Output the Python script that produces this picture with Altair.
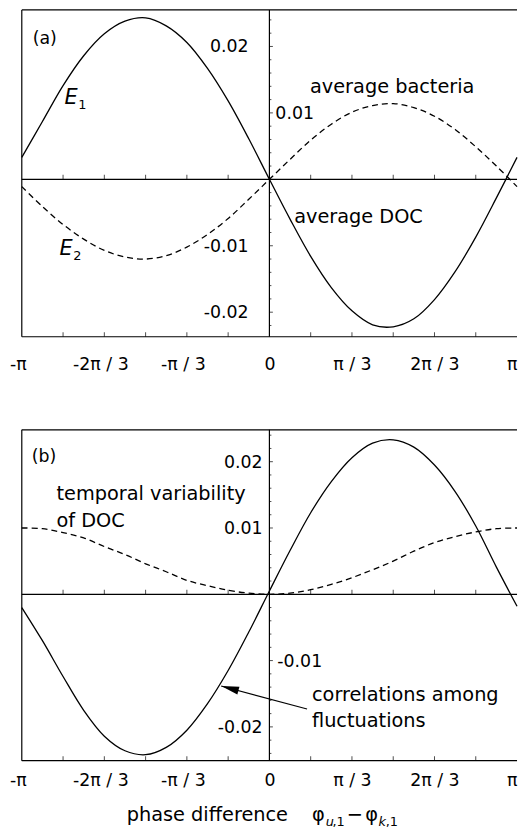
import math
import altair as alt
import pandas as pd

PI = math.pi
FONT = "DejaVu Sans"

# ---------------- data ----------------
# common x positions: multiples of pi/12 from -pi to pi
grid_k = list(range(-12, 13))
grid_x = [k * PI / 12 for k in grid_k]

# panel (a): E1 (solid) and E2 (dashed)
a_e1_y = [0.0033, 0.0087, 0.0141, 0.0186, 0.0219, 0.0238, 0.0243, 0.0231, 0.0206, 0.0167, 0.0118, 0.0061, 0.0,
          -0.0060, -0.0116, -0.0163, -0.0198, -0.0219, -0.0222, -0.0210, -0.0181, -0.0139, -0.0087, -0.0028, 0.0033]
a_e2_y = [-0.0011, -0.0041, -0.0068, -0.0090, -0.0107, -0.0117, -0.0120, -0.0115, -0.0102, -0.0083, -0.0059, -0.0030, 0.0,
          0.0030, 0.0059, 0.0083, 0.0101, 0.0111, 0.0114, 0.0108, 0.0095, 0.0075, 0.0049, 0.0020, -0.0011]

# panel (b): correlations among fluctuations (solid), temporal variability of DOC (dashed)
b_sol_y = [-0.0020, -0.0070, -0.0124, -0.0175, -0.0214, -0.0236, -0.0242, -0.0231, -0.0205, -0.0165, -0.0115, -0.0057, 0.0005,
           0.0066, 0.0123, 0.0170, 0.0206, 0.0228, 0.0233, 0.0222, 0.0195, 0.0155, 0.0103, 0.0041, -0.0018]
b_dash_y = [0.0100, 0.0099, 0.0093, 0.0085, 0.0072, 0.0060, 0.0046, 0.0034, 0.0021, 0.0013, 0.0006, 0.00017, 0.0,
            0.00017, 0.0007, 0.0015, 0.0025, 0.0037, 0.0050, 0.0065, 0.0078, 0.0087, 0.0094, 0.0099, 0.0100]

# axes
x_label_mult = [-3, -2, -1, 0, 1, 2, 3]          # multiples of pi/3
x_labels = ["-π", "-2π / 3", "-π / 3", "0", "π / 3", "2π / 3", "π"]
x_tick_mult = [-5, -4, -3, -2, -1, 1, 2, 3, 4, 5]  # multiples of pi/6
a_ydom = [-0.0237, 0.0255]
b_ydom = [-0.0251, 0.0248]
y_major = [-0.02, -0.01, 0.01, 0.02]
y_minor_k = list(range(-12, 13))                  # multiples of 0.002
y_label_vals = [0.02, 0.01, -0.01, -0.02]
y_label_txt = ["0.02", "0.01", "-0.01", "-0.02"]
a_y_label_side = ["L", "R", "L", "L"]
b_y_label_side = ["L", "L", "R", "L"]

# annotations (x in radians, y in data units)
a_ann_txt = ["(a)", "average bacteria", "average DOC"]
a_ann_x = [-3.003, 0.515, 0.314]
a_ann_y = [0.0204, 0.0130, -0.00657]
a_ann_s = [17.5, 19.5, 19.5]
a_E_txt = ["E", "E"]
a_E_x = [-2.601, -2.664]
a_E_y = [0.01134, -0.01145]
a_sub_txt = ["1", "2"]
a_sub_x = [-2.425, -2.488]
a_sub_y = [0.0106, -0.0121]

b_ann_txt = ["(b)", "temporal variability", "of DOC", "correlations among", "fluctuations"]
b_ann_x = [-3.016, -2.702, -2.702, 0.540, 0.540]
b_ann_y = [0.0200, 0.01418, 0.01015, -0.01607, -0.02005]
b_ann_s = [17.5, 19.5, 19.5, 19.5, 19.5]
arrow_from = (0.4775, -0.01731)
arrow_tip = (-0.612, -0.01384)

# x-axis title pieces (panel b, below plot)
t_txt = ["phase difference", "φ", ",1", "−", "φ", ",1"]
t_x = [-1.810, 0.540, 0.800, 0.980, 1.215, 1.475]
t_y = [-0.0342, -0.0342, -0.0349, -0.0342, -0.0342, -0.0349]
t_s = [19.5, 19.5, 13, 19.5, 19.5, 13]
t_it_txt = ["u", "k"]
t_it_x = [0.716, 1.385]
t_it_y = [-0.0349, -0.0349]


def label_expr():
    parts = []
    for m, lab in zip(x_label_mult, x_labels):
        parts.append(f"round(datum.value*3/PI) == {m} ? '{lab}'")
    return " : ".join(parts) + " : ''"


def make_panel(ydom, height, label_pad, lines, y_side, dx_left, dx_right, ann, italics, subs, extra=None):
    xs = alt.Scale(domain=[-PI, PI], nice=False, zero=False)
    ys = alt.Scale(domain=ydom, nice=False, zero=False)
    xaxis = alt.Axis(values=[m * PI / 3 for m in x_label_mult], labelExpr=label_expr(),
                     ticks=False, domain=False, grid=False, title=None,
                     labelFont=FONT, labelFontSize=17.5, labelColor="black", labelPadding=label_pad,
                     labelAlign={"condition": {"test": "datum.value > 3", "value": "right"}, "value": "center"},
                     labelOffset={"condition": {"test": "datum.value < -0.1", "value": -4}, "value": 0})

    def X():
        return alt.X("x:Q", scale=xs, axis=xaxis)

    def Y():
        return alt.Y("y:Q", scale=ys, axis=None)

    lo, hi = ydom
    frame = pd.DataFrame({
        "x": [-PI, -PI, -PI, 0.0, -PI],
        "x2": [PI, PI, -PI, 0.0, PI],
        "y": [hi, lo, lo, lo, 0.0],
        "y2": [hi, lo, hi, hi, 0.0],
    })
    layers = [alt.Chart(frame).mark_rule(color="black", strokeWidth=1.2).encode(
        x=X(), x2="x2:Q", y=Y(), y2="y2:Q")]

    xt = pd.DataFrame({"x": [k * PI / 6 for k in x_tick_mult] * 2,
                       "y": [0.0] * len(x_tick_mult) + [lo] * len(x_tick_mult)})
    layers.append(alt.Chart(xt).mark_tick(orient="vertical", size=4.5, thickness=1, yOffset=-2.25, color="black").encode(
        x=X(), y=Y()))
    ymn = [k * 0.002 for k in y_minor_k if lo < k * 0.002 < hi and k % 5 != 0]
    layers.append(alt.Chart(pd.DataFrame({"x": [0.0] * len(ymn), "y": ymn})).mark_tick(
        orient="horizontal", size=2, thickness=1, xOffset=1, color="black").encode(x=X(), y=Y()))
    layers.append(alt.Chart(pd.DataFrame({"x": [0.0] * len(y_major), "y": y_major})).mark_tick(
        orient="horizontal", size=3.5, thickness=1, xOffset=1.75, color="black").encode(x=X(), y=Y()))

    for (ly, dashed) in lines:
        kw = {"strokeDash": [6, 4]} if dashed else {}
        layers.append(alt.Chart(pd.DataFrame({"x": grid_x, "y": ly})).mark_line(
            color="black", strokeWidth=1.3, interpolate="catmull-rom", **kw).encode(
            x=X(), y=Y(), order="x:Q"))

    yl = pd.DataFrame({"x": [0.0] * 4, "y": y_label_vals, "t": y_label_txt, "side": y_side})
    for side, align, dx in [("L", "right", dx_left), ("R", "left", dx_right)]:
        layers.append(alt.Chart(yl[yl.side == side]).mark_text(
            align=align, baseline="middle", dx=dx, dy=1, font=FONT, fontSize=17.5, color="black").encode(
            x=X(), y=Y(), text="t:N"))

    def txt(df, italic=False):
        return alt.Chart(df).mark_text(align="left", baseline="alphabetic", font=FONT,
                                       fontStyle="italic" if italic else "normal", color="black").encode(
            x=X(), y=Y(), text="t:N", size=alt.Size("s:Q", scale=None, legend=None))

    for df, it in ann + italics + subs:
        layers.append(txt(df, it))

    if extra is not None:
        layers += extra(X, Y)
    return alt.layer(*layers).properties(width=500, height=height)


def df_t(t, x, y, s):
    if not isinstance(s, list):
        s = [s] * len(t)
    return pd.DataFrame({"t": t, "x": x, "y": y, "s": s})


panel_a = make_panel(
    a_ydom, 330, 19, [(a_e1_y, False), (a_e2_y, True)], a_y_label_side, -21, 6,
    [(df_t(a_ann_txt, a_ann_x, a_ann_y, a_ann_s), False)],
    [(df_t(a_E_txt, a_E_x, a_E_y, 21), True)],
    [(df_t(a_sub_txt, a_sub_x, a_sub_y, 13), False)])


def arrow_layers(X, Y):
    seg = pd.DataFrame({"x": [arrow_from[0]], "y": [arrow_from[1]], "x2": [arrow_tip[0]], "y2": [arrow_tip[1]]})
    rule = alt.Chart(seg).mark_rule(color="black", strokeWidth=1.2).encode(
        x=X(), y=Y(), x2="x2:Q", y2="y2:Q")
    head = alt.Chart(pd.DataFrame({"x": [arrow_tip[0]], "y": [arrow_tip[1]]})).mark_point(
        shape="M0,0L2,-0.45L2,0.45Z", size=324, angle=15, filled=True, color="black", opacity=1).encode(
        x=X(), y=Y())
    return [rule, head]


panel_b = make_panel(
    b_ydom, 334, 11, [(b_sol_y, False), (b_dash_y, True)], b_y_label_side, -7, 8,
    [(df_t(b_ann_txt, b_ann_x, b_ann_y, b_ann_s), False), (df_t(t_txt, t_x, t_y, t_s), False)],
    [(df_t(t_it_txt, t_it_x, t_it_y, 13), True)],
    [],
    extra=arrow_layers)

chart = alt.vconcat(panel_a, panel_b, spacing=56).properties(
    padding={"left": 9, "top": 5, "right": 0, "bottom": 0},
    background="white",
).configure_view(stroke=None)

chart.save("out.html", embed_options={"renderer": "svg", "actions": False})
